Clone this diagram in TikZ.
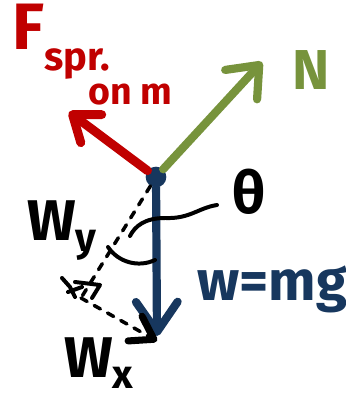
\documentclass[tikz,border=0pt]{standalone}
\usepackage{fontspec}
\setmainfont{Fira Sans}
\usetikzlibrary{arrows.meta}
\definecolor{sprred}{HTML}{C00000}
\definecolor{normgreen}{HTML}{77933C}
\definecolor{wtblue}{HTML}{17375E}

\begin{document}
\begin{tikzpicture}[x=0.03cm,y=-0.03cm,
    force/.style={line width=7pt, line cap=round, line join=round},
    guide/.style={line width=3pt, line cap=round, dash pattern=on 6pt off 7pt},
    pen/.style={line width=3.4pt, line cap=round, line join=round},
    lbl/.style={font=\bfseries\fontsize{#1}{#1}\selectfont, inner sep=0pt, anchor=base west}]
    % Canvas: pixel grid of the sketch, 346 x 401, y running downwards.
    \useasboundingbox (0,0) rectangle (346,401);
    \clip (0,0) rectangle (346,401);

    \node[circle, fill=wtblue, minimum size=0.62cm, inner sep=0pt] (m) at (156,177) {};
    \coordinate (Ftip) at (69,112);
    \coordinate (Ntip) at (262,62);
    \coordinate (Wtip) at (157,336);
    \coordinate (C) at (81,298);
    \coordinate (Wxtip) at (157,341);

    % Forces on the mass
    \draw[force, sprred, line width=7.6pt, -{Straight Barb[round, line width=0pt 1, length=0.7cm, width=1.05cm]}] (m) -- (Ftip);
    \draw[force, normgreen, -{Straight Barb[round, line width=0pt 1, length=0.8cm, width=1.3cm]}] (m) -- (Ntip);
    \draw[force, wtblue, -{Straight Barb[round, line width=0pt 1, length=0.9cm, width=1.25cm]}] (m) -- (Wtip);

    % Components of the weight
    \draw[guide] (m) -- (C);
    \draw[guide, -{Straight Barb[round, line width=6pt 0, length=0.65cm, width=0.85cm]}] (C) -- (Wxtip);
    \draw[pen] (62,278) -- (70,287) -- (75,297);
    \draw[pen] (68,292) -- (82,287);
    \draw[pen] (75,282) -- (100,285) -- (92,298);

    % Angle and pointer
    \draw[pen] (108,247) .. controls (118,262) and (138,268) .. (155,260);
    \draw[pen] (217,205) .. controls (198,208) and (190,219) .. (165,218)
      .. controls (145,218) and (135,226) .. (130,236);

    % Labels
    \node[lbl=56pt, text=sprred] (Flbl) at (12,50) {F};
    \node[lbl=34pt, text=sprred] (sprlbl) at (44,71) {spr.};
    \node[lbl=32pt, text=sprred] (onmlbl) at (88,105) {on m};
    \node[lbl=48pt, text=normgreen] (Nlbl) at (292,90) {N};
    \node[lbl=50pt] (thlbl) at (232,213) {θ};
    \node[lbl=49pt] (Wylbl) at (27,240) {W\textsubscript{y}};
    \node[lbl=49pt] (Wxlbl) at (64,377) {W\textsubscript{x}};
    \node[lbl=48pt, text=wtblue] (wlbl) at (197,300) {w=mg};
\end{tikzpicture}
\end{document}
